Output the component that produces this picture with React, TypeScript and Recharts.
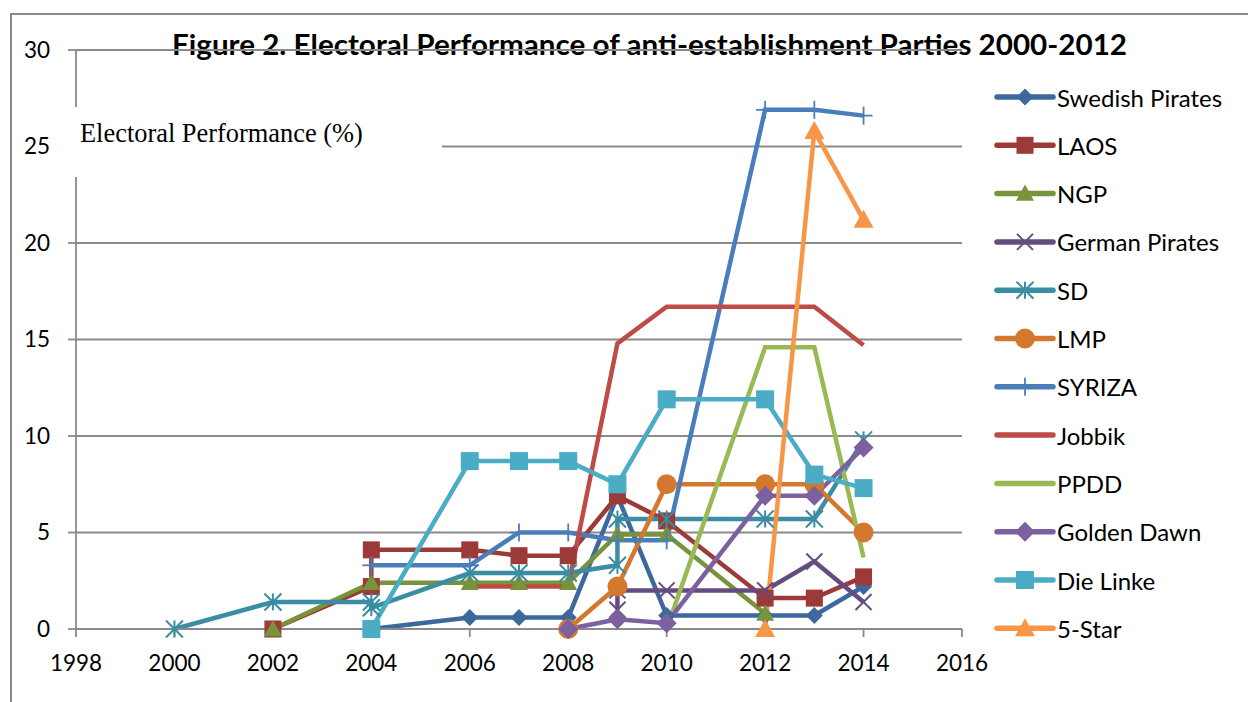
import { LineChart, Line, XAxis, YAxis, CartesianGrid } from 'recharts';

const TITLE = 'Figure 2. Electoral Performance of anti-establishment Parties 2000-2012';
const Y_LABEL = 'Electoral Performance (%)';

const xTicks = [1998, 2000, 2002, 2004, 2006, 2008, 2010, 2012, 2014, 2016];
const yTicks = [0, 5, 10, 15, 20, 25, 30];

// [year, %] pairs; some years carry two elections
const swedishPirates = [[2004, 0], [2006, 0.6], [2007, 0.6], [2008, 0.6], [2009, 6.9], [2010, 0.7], [2012, 0.7], [2013, 0.7], [2014, 2.2]];
const laos = [[2002, 0], [2004, 2.2], [2004, 4.1], [2006, 4.1], [2007, 3.8], [2008, 3.8], [2009, 6.9], [2010, 5.6], [2012, 1.6], [2013, 1.6], [2014, 2.7]];
const ngp = [[2002, 0], [2004, 2.4], [2006, 2.4], [2007, 2.4], [2008, 2.4], [2009, 4.9], [2010, 4.9], [2012, 0.8]];
const germanPirates = [[2009, 1.0], [2009, 2.0], [2010, 2.0], [2012, 2.0], [2013, 3.5], [2014, 1.4]];
const sd = [[2000, 0], [2002, 1.4], [2004, 1.4], [2004, 1.1], [2006, 2.9], [2007, 2.9], [2008, 2.9], [2009, 3.3], [2009, 5.7], [2010, 5.7], [2012, 5.7], [2013, 5.7], [2014, 9.8]];
const lmp = [[2008, 0], [2009, 2.2], [2010, 7.5], [2012, 7.5], [2013, 7.5], [2014, 5.0]];
const syriza = [[2004, 3.3], [2006, 3.3], [2007, 5.0], [2008, 5.0], [2009, 4.6], [2010, 4.6], [2012, 26.9], [2013, 26.9], [2014, 26.6]];
const jobbik = [[2006, 2.2], [2007, 2.2], [2008, 2.2], [2009, 14.8], [2010, 16.7], [2012, 16.7], [2013, 16.7], [2014, 14.7]];
const ppdd = [[2010, 0], [2012, 14.6], [2013, 14.6], [2014, 3.7]];
const goldenDawn = [[2008, 0], [2009, 0.5], [2010, 0.3], [2012, 6.9], [2013, 6.9], [2014, 9.4]];
const dieLinke = [[2004, 0], [2006, 8.7], [2007, 8.7], [2008, 8.7], [2009, 7.5], [2010, 11.9], [2012, 11.9], [2013, 8.0], [2014, 7.3]];
const fiveStar = [[2012, 0], [2013, 25.8], [2014, 21.2]];

type Shape = 'diamond' | 'square' | 'triangle' | 'x' | 'asterisk' | 'circle' | 'plus' | 'none';

const series: { name: string; color: string; shape: Shape; size: number; rows: number[][] }[] = [
  { name: 'Swedish Pirates', color: '#3d689d', shape: 'diamond', size: 17, rows: swedishPirates },
  { name: 'LAOS', color: '#9c3a37', shape: 'square', size: 17, rows: laos },
  { name: 'NGP', color: '#77933c', shape: 'triangle', size: 18, rows: ngp },
  { name: 'German Pirates', color: '#634c80', shape: 'x', size: 16, rows: germanPirates },
  { name: 'SD', color: '#3a8da3', shape: 'asterisk', size: 17, rows: sd },
  { name: 'LMP', color: '#d5782f', shape: 'circle', size: 20, rows: lmp },
  { name: 'SYRIZA', color: '#4a7ebb', shape: 'plus', size: 18, rows: syriza },
  { name: 'Jobbik', color: '#be4b48', shape: 'none', size: 0, rows: jobbik },
  { name: 'PPDD', color: '#98b954', shape: 'none', size: 0, rows: ppdd },
  { name: 'Golden Dawn', color: '#7d60a0', shape: 'diamond', size: 20, rows: goldenDawn },
  { name: 'Die Linke', color: '#4bacc6', shape: 'square', size: 18, rows: dieLinke },
  { name: '5-Star', color: '#f79646', shape: 'triangle', size: 20, rows: fiveStar },
];

const GRID = '#8a8a8a';
const FONT = 'Lato, "Open Sans", sans-serif';

function Marker({ shape, cx, cy, color, size }: { shape: Shape; cx: number; cy: number; color: string; size: number }) {
  const h = size / 2;
  switch (shape) {
    case 'diamond':
      return <polygon points={`${cx},${cy - h} ${cx + h},${cy} ${cx},${cy + h} ${cx - h},${cy}`} fill={color} />;
    case 'square':
      return <rect x={cx - h} y={cy - h} width={size} height={size} fill={color} />;
    case 'triangle':
      return <polygon points={`${cx},${cy - h} ${cx + h},${cy + h * 0.8} ${cx - h},${cy + h * 0.8}`} fill={color} />;
    case 'circle':
      return <circle cx={cx} cy={cy} r={h} fill={color} />;
    case 'x':
      return (
        <g stroke={color} strokeWidth={2}>
          <line x1={cx - h} y1={cy - h} x2={cx + h} y2={cy + h} />
          <line x1={cx - h} y1={cy + h} x2={cx + h} y2={cy - h} />
        </g>
      );
    case 'asterisk':
      return (
        <g stroke={color} strokeWidth={2}>
          <line x1={cx - h} y1={cy - h} x2={cx + h} y2={cy + h} />
          <line x1={cx - h} y1={cy + h} x2={cx + h} y2={cy - h} />
          <line x1={cx} y1={cy - h} x2={cx} y2={cy + h} />
        </g>
      );
    case 'plus':
      return (
        <g stroke={color} strokeWidth={1.8}>
          <line x1={cx - h} y1={cy} x2={cx + h} y2={cy} />
          <line x1={cx} y1={cy - h} x2={cx} y2={cy + h} />
        </g>
      );
    default:
      return <g />;
  }
}

export default function App() {
  return (
    <div style={{ position: 'absolute', left: 0, top: 0, width: 1248, height: 702, overflow: 'hidden', background: '#fff' }}>
      <div style={{ position: 'absolute', left: 10, top: 13, width: 1400, height: 900, border: `2px solid ${GRID}` }} />

      <svg style={{ position: 'absolute', left: 0, top: 0 }} width={1248} height={702}>
        <text x={649.5} y={55} textAnchor="middle" fontFamily={FONT} fontWeight="bold" fontSize={29}
          textLength={955} lengthAdjust="spacingAndGlyphs" fill="#000">
          {TITLE}
        </text>
      </svg>

      <div style={{ position: 'absolute', left: 0, top: 0 }}>
        <LineChart width={1248} height={702} margin={{ top: 50, right: 286, bottom: 0, left: 0 }}>
          <CartesianGrid vertical={false} stroke={GRID} strokeWidth={1.8} />
          <XAxis
            type="number"
            dataKey="year"
            domain={[1998, 2016]}
            ticks={xTicks}
            height={73}
            tickSize={8}
            tickMargin={18}
            allowDuplicatedCategory={false}
            stroke={GRID}
            strokeWidth={1.8}
            tick={{ fontSize: 22.5, fill: '#000', fontFamily: FONT }}
          />
          <YAxis
            type="number"
            domain={[0, 30]}
            ticks={yTicks}
            width={76}
            tickSize={8}
            tickMargin={18}
            stroke={GRID}
            strokeWidth={1.8}
            tick={{ fontSize: 22.5, fill: '#000', fontFamily: FONT }}
          />
          {series.map((s) => (
            <Line
              key={s.name}
              name={s.name}
              data={s.rows.map(([year, value]) => ({ year, value }))}
              dataKey="value"
              type="linear"
              stroke={s.color}
              strokeWidth={4.5}
              isAnimationActive={false}
              activeDot={false}
              dot={(p: any) => (
                <Marker key={`${s.name}-${p.index}`} shape={s.shape} cx={p.cx} cy={p.cy} color={s.color} size={s.size} />
              )}
            />
          ))}
        </LineChart>
      </div>

      <svg style={{ position: 'absolute', left: 0, top: 0 }} width={1248} height={702}>
        <rect x={56} y={107} width={386} height={70} fill="#fff" />
        <text x={80} y={142} fontFamily='"Liberation Serif", "Times New Roman", serif' fontSize={26.4} fill="#000">
          {Y_LABEL}
        </text>
        {series.map((s, i) => {
          const cy = 97 + i * 48.3;
          return (
            <g key={s.name}>
              <line x1={997} y1={cy} x2={1053} y2={cy} stroke={s.color} strokeWidth={5.5} strokeLinecap="round" />
              <Marker shape={s.shape} cx={1025} cy={cy} color={s.color} size={s.size} />
              <text x={1057} y={cy} dominantBaseline="central" fontFamily={FONT} fontSize={24} fill="#000">
                {s.name}
              </text>
            </g>
          );
        })}
      </svg>
    </div>
  );
}
